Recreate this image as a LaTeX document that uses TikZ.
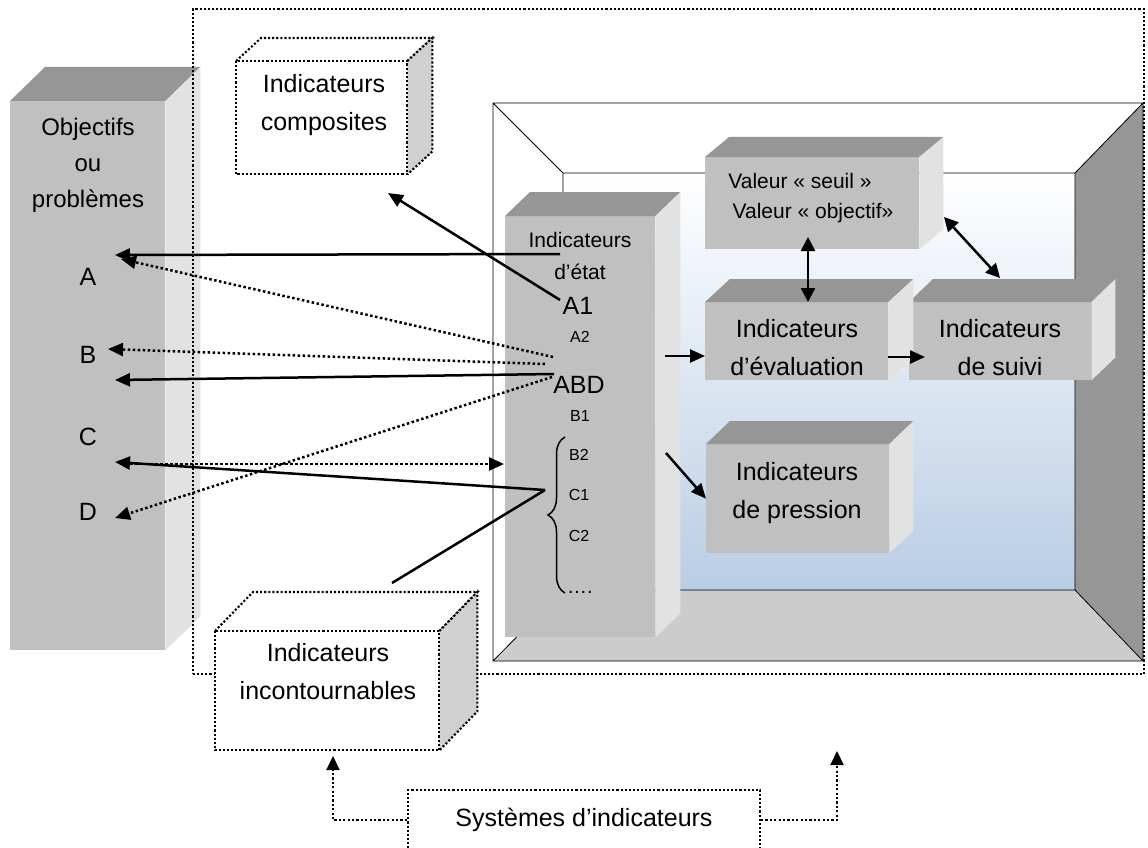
\documentclass[tikz,border=0pt]{standalone}
\usepackage{fontspec}
\setmainfont{Liberation Sans}
\usetikzlibrary{arrows.meta, calc, decorations.pathreplacing}

\definecolor{facegray}{RGB}{192, 192, 192}
\definecolor{topgray}{RGB}{150, 150, 150}
\definecolor{sidegray}{RGB}{226, 226, 226}
\definecolor{ghostgray}{RGB}{208, 208, 208}
\definecolor{bevelgray}{RGB}{204, 204, 204}
\definecolor{skyblue}{RGB}{185, 205, 229}

\tikzset{
  face/.style={fill=facegray, inner sep=0pt, anchor=north west},
  ghostface/.style={fill=white, inner sep=0pt, anchor=north west},
  ghostline/.style={line width=2.1pt, dash pattern=on 2.1pt off 2pt},
  frameline/.style={line width=0.8pt},
  txtbig/.style={font=\fontsize{25}{38}\selectfont, align=center, inner sep=0pt},
  txtmid/.style={font=\fontsize{24}{36}\selectfont, align=center, inner sep=0pt},
  txtsmall/.style={font=\fontsize{21}{32}\selectfont, align=center, inner sep=0pt},
  txttiny/.style={font=\fontsize{16}{19}\selectfont, inner sep=0pt},
  link/.style={line width=2.5pt},
  linkarrow/.style={link, -{Triangle[length=15pt, width=13pt]}},
  twoway/.style={link, {Triangle[length=14pt, width=14pt]}-{Triangle[length=14pt, width=14pt]}},
  dotarrow/.style={line width=2.5pt, dash pattern=on 2.5pt off 2.5pt, -{Triangle[length=15pt, width=13pt]}},
  sysarrow/.style={line width=2.2pt, dash pattern=on 2.2pt off 2.2pt, -{Triangle[length=14pt, width=13pt]}},
}

% top and side faces of a box whose front face is node #1
\newcommand{\cubesides}[3]{%
  \fill[topgray] (#1.north west) -- ++(#2,-#3) -- ($(#1.north east)+(#2,-#3)$) -- (#1.north east) -- cycle;
  \fill[sidegray] (#1.north east) -- ++(#2,-#3) -- ($(#1.south east)+(#2,-#3)$) -- (#1.south east) -- cycle;}
\newcommand{\ghostsides}[3]{%
  \filldraw[fill=white, ghostline] (#1.north west) -- ++(#2,-#3) -- ($(#1.north east)+(#2,-#3)$) -- (#1.north east);
  \filldraw[fill=ghostgray, ghostline] (#1.north east) -- ++(#2,-#3) -- ($(#1.south east)+(#2,-#3)$) -- (#1.south east);
  \draw[ghostline] (#1.north west) rectangle (#1.south east);}

\begin{document}
\begin{tikzpicture}[x=1pt, y=-1pt]
  \useasboundingbox[fill=white] (0,0) rectangle (1148,848);

  % Frame
  \coordinate (fo1) at (493,103); \coordinate (fo2) at (1143,103);
  \coordinate (fo3) at (1143,661); \coordinate (fo4) at (493,661);
  \coordinate (fi1) at (563,173); \coordinate (fi2) at (1075,173);
  \coordinate (fi3) at (1075,590); \coordinate (fi4) at (563,590);
  \fill[bevelgray] (fo4) -- (fi4) -- (fi3) -- (fo3) -- cycle;
  \fill[topgray] (fo2) -- (fo3) -- (fi3) -- (fi2) -- cycle;
  \shade[top color=white, bottom color=skyblue] (fi1) rectangle (fi3);
  \draw[frameline] (fo1) rectangle (fo3) (fi1) rectangle (fi3)
    (fo1) -- (fi1) (fo2) -- (fi2) (fo3) -- (fi3) (fo4) -- (fi4);

  % Objectifs
  \node[face, minimum width=155pt, minimum height=549pt] (obj) at (10,101) {};
  \cubesides{obj}{35}{34}
  \node[txtmid] (objtxt) at (88,165) {Objectifs\\ou\\problèmes};
  \node[txtbig] (la) at (88,277) {A};
  \node[txtbig] (lb) at (88,355) {B};
  \node[txtbig] (lc) at (88,437) {C};
  \node[txtbig] (ld) at (88,512) {D};

  % Systemes
  \node[draw, ghostline, inner sep=0pt, minimum width=951pt, minimum height=665pt, anchor=north west] (sysframe) at (192,8) {};

  % Composites
  \node[ghostface, minimum width=171pt, minimum height=113pt] (comp) at (236,61) {};
  \ghostsides{comp}{25}{23}
  \node[txtbig] (comptxt) at (324,105) {Indicateurs\\composites};

  % Incontournables
  \node[ghostface, minimum width=224pt, minimum height=119pt] (incont) at (215,631) {};
  \ghostsides{incont}{38}{39}
  \node[txtbig] (incontxt) at (328,672) {Indicateurs\\incontournables};

  % Etat
  \node[face, minimum width=150pt, minimum height=421pt] (etat) at (505,216) {};
  \cubesides{etat}{25}{24}
  \node[txtsmall] (etattxt) at (580,256) {Indicateurs\\d’état};
  \node[txtbig] (aone) at (578,306) {A1};
  \node[txttiny] (atwo) at (580,337) {A2};
  \node[txtbig] (abd) at (579,385) {ABD};
  \node[txttiny] (bone) at (580,416) {B1};
  \node[txttiny] (btwo) at (579,455) {B2};
  \node[txttiny] (cone) at (579,495) {C1};
  \node[txttiny] (ctwo) at (579,536) {C2};
  \node[txttiny, anchor=base west, font=\fontsize{20}{24}\selectfont] (more) at (567,593) {….};
  \draw[line width=1.5pt, decorate, decoration={brace, amplitude=17pt}] (565,593) -- (565,437);

  % Valeur
  \node[face, minimum width=214pt, minimum height=92pt] (valeur) at (705,157) {};
  \cubesides{valeur}{24}{20}
  \node[txtsmall] (seuil) at (800,181) {Valeur « seuil »};
  \node[txtsmall] (objectif) at (813,213) {Valeur « objectif»};

  % Suivi, evaluation, pression
  \node[face, minimum width=182pt, minimum height=78pt] (suivi) at (909,302) {};
  \cubesides{suivi}{24}{23}
  \node[txtbig] (suivitxt) at (1000,348) {Indicateurs\\de suivi};
  \node[face, minimum width=183pt, minimum height=78pt] (eval) at (705,302) {};
  \cubesides{eval}{25}{23}
  \node[txtbig] (evaltxt) at (797,348) {Indicateurs\\d’évaluation};
  \node[face, minimum width=183pt, minimum height=109pt] (pres) at (706,444) {};
  \cubesides{pres}{24}{23}
  \node[txtbig] (prestxt) at (797,493) {Indicateurs\\de pression};

  % Links to objectifs
  \coordinate (toA) at (115,255); \coordinate (toAdot) at (121,259);
  \coordinate (toBdot) at (108,349); \coordinate (toB) at (115,380);
  \coordinate (toC) at (115,462); \coordinate (fromC) at (125,464);
  \coordinate (toD) at (115,518);
  \coordinate (fromtitle) at (560,254);
  \coordinate (fromaone) at (560,300); \coordinate (tocomp) at (388,193);
  \coordinate (abda) at (553,357); \coordinate (abdb) at (545,364);
  \coordinate (abdc) at (554,374); \coordinate (abdd) at (552,377);
  \coordinate (bracetip) at (545,490); \coordinate (toincont) at (392,583);
  \coordinate (toetat) at (504,464);
  \draw[linkarrow] (fromtitle) -- (toA);
  \draw[linkarrow] (fromaone) -- (tocomp);
  \draw[dotarrow] (abda) -- (toAdot);
  \draw[dotarrow] (abdb) -- (toBdot);
  \draw[linkarrow] (abdc) -- (toB);
  \draw[dotarrow] (abdd) -- (toD);
  \draw[linkarrow] (bracetip) -- (toC);
  \draw[link] (bracetip) -- (toincont);
  \draw[dotarrow] (fromC) -- (toetat);

  % Links inside the frame
  \coordinate (etatout) at (665,356); \coordinate (etatdown) at (666,453);
  \coordinate (evalout) at (888,357); \coordinate (suiviin) at (925,357);
  \coordinate (valbot) at (808,237); \coordinate (valside) at (944,217);
  \coordinate (suivitop) at (1000,278);
  \draw[linkarrow] (etatout) -- (etatout -| eval.west);
  \draw[linkarrow] (etatdown) -- (pres.west);
  \draw[linkarrow] (evalout) -- (suiviin);
  \draw[twoway] (valbot) -- (valbot |- eval.north);
  \draw[twoway] (valside) -- (suivitop);

  % Systemes d'indicateurs
  \node[draw, ghostline, fill=white, inner sep=0pt, minimum width=352pt, minimum height=60pt, font=\fontsize{25}{30}\selectfont] (sys) at (584,820) {Systèmes d’indicateurs};
  \coordinate (upleft) at (333,756); \coordinate (upright) at (837,751);
  \draw[sysarrow] (sys.west) -| (upleft);
  \draw[sysarrow] (sys.east) -| (upright);
\end{tikzpicture}
\end{document}
